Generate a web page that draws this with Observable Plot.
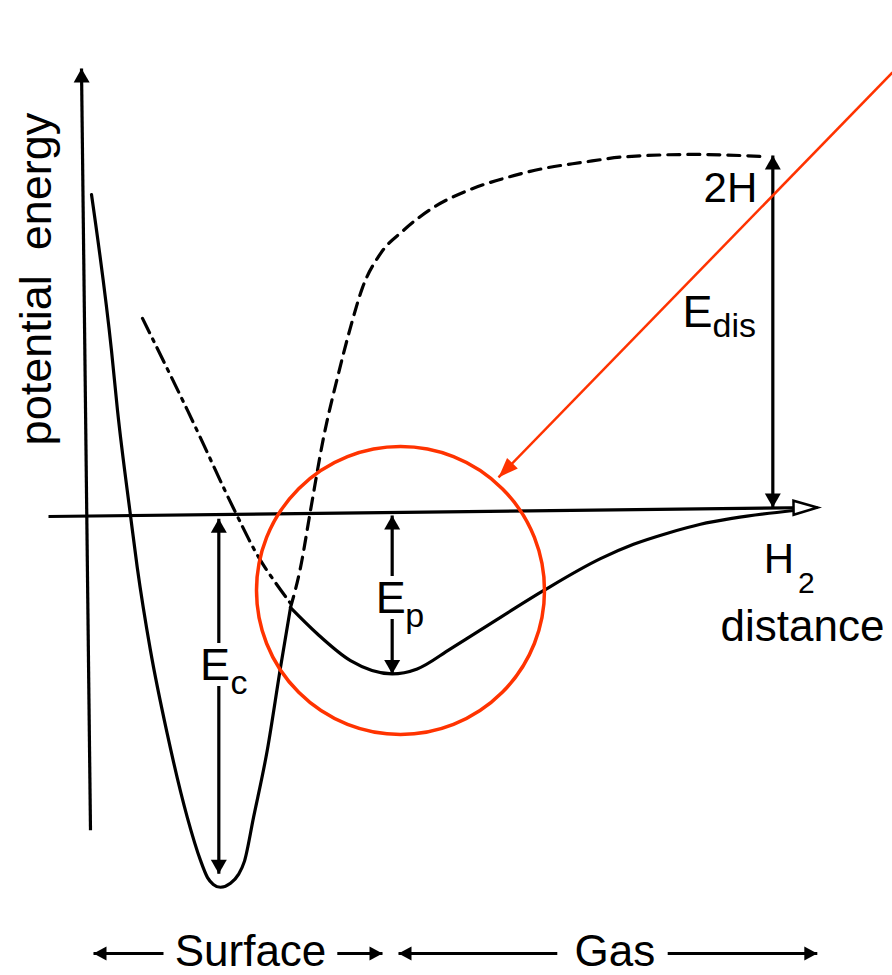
<!DOCTYPE html>
<html><head><meta charset="utf-8">
<script src="https://cdn.jsdelivr.net/npm/d3@7"></script>
<script src="https://cdn.jsdelivr.net/npm/@observablehq/plot@0.6"></script>
<style>body{margin:0;background:#fff}</style>
</head><body><div id="chart"></div>
<script>
// ---- data: [distance, potential energy] in arbitrary units ----
const chemisorptionWell = [[0.375,89.1],[2.875,45.5],[3.625,28.8],[5.25,-0.56],[6.09,-15.0],[7.75,-38.3],[9.84,-61.5],[12.34,-84.8],[14.0,-96.9],[14.88,-101.7],[15.6,-103.6],[16.5,-104.4],[17.75,-103.3],[18.75,-100.8],[19.5,-97.1],[20.63,-84.9],[22.34,-66.2],[24.0,-43.0],[25.25,-26.3]];
const physisorptionWell = [[25.25,-26.3],[28.59,-33.6],[32.75,-41.1],[37.96,-44.8],[41.09,-43.4],[45.25,-37.8],[51.5,-29.0],[56.91,-21.5],[64.0,-12.6],[68.13,-8.6],[72.38,-5.5],[76.5,-3.0],[80.63,-1.3],[88.13,0.84]];
const atomicCurve = [[25.25,-26.3],[26.5,-15.1],[27.75,0.84],[29.38,21.2],[31.25,39.1],[32.75,52.0],[34.25,63.1],[36.5,72.6],[39.38,79.1],[43.13,85.5],[47.38,90.2],[52.38,93.9],[57.38,96.6],[61.5,98.0],[67.38,99.7],[75.63,100.3],[84.63,99.7]];
const repulsiveBranch = [[6.75,54.5],[12.38,28.8],[18.38,0.28],[21.5,-13.1],[25.25,-25.1]];

const energyAxis = {from:[0.25,-88.5], to:[-0.875,124.3]};
const distanceAxis = {from:[-5,-0.84], to:[91.13,1.68]};

// energy differences (double arrows)
const energyGaps = [
  {name:"Ec",   d:16.29, top:-1.48, bottom:-100.6},
  {name:"Ep",   d:37.96, top:-0.56, bottom:-44.8},
  {name:"Edis", d:85.54, top:100.0, bottom:1.68}
];
const gapLabels = [
  {t:"E", d:13.94, e:-46.6, halo:true},
  {t:"E", d:35.9,  e:-27.9, halo:true},
  {t:"E", d:74.25, e:51.96, halo:false}
];
const gapSubscripts = [
  {t:"c",   d:17.75, e:-50.3},
  {t:"p",   d:39.6,  e:-31.6},
  {t:"dis", d:78.0,  e:49.2}
];
const stateLabels = [{t:"2H", d:83.6, e:86.9}];
const moleculeLabel = [{t:"H", d:84.4, e:-16.5}];
const moleculeSub = [{t:"2", d:88.7, e:-22.3}];
const axisTitles = [{t:"distance", d:79.0, e:-35.5}];
const energyTitle = [{t:"potential\u00a0\u00a0energy", d:-4.75, e:65.5}];

// regions along the bottom
const regionY = -122.9;
const regionArrows = [{tail:9.375, tip:0.625},{tail:31.1, tip:36.75},{tail:58.6, tip:38.75},{tail:72.4, tip:91.1}];
const regionLabels = [{t:"Surface", d:20.25},{t:"Gas", d:65.8}];
const regionBaseline = -126.4;

// highlight
const highlight = [{d:39.0, e:-21.5}];
const pointer = {from:[100.5,123.2], to:[51.25,10.06]};

// ---- scales ----
const W = 892, H = 975;
const xDomain = [-11, 100.5], yDomain = [-129.05, 143.3];
const PX = d => (d - xDomain[0]) / (xDomain[1]-xDomain[0]) * W;
const PY = e => H - (e - yDomain[0]) / (yDomain[1]-yDomain[0]) * H;
const angle = (a, b) => Math.atan2(PX(b[0])-PX(a[0]), -(PY(b[1])-PY(a[1]))) * 180/Math.PI;

function head(len, hw) {
  return { draw(ctx) { ctx.moveTo(0,0); ctx.lineTo(hw,len); ctx.lineTo(-hw,len); ctx.closePath(); } };
}

// arrowheads (filled)
const heads = [];
heads.push({d:energyAxis.to[0], e:energyAxis.to[1], rot:angle(energyAxis.from, energyAxis.to)});
for (const g of energyGaps) {
  heads.push({d:g.d, e:g.top, rot:0});
  heads.push({d:g.d, e:g.bottom, rot:180});
}
for (const a of regionArrows) {
  heads.push({d:a.tip, e:regionY, rot: a.tip < a.tail ? 270 : 90, small:true});
}
const axisHead = [{d:distanceAxis.to[0], e:distanceAxis.to[1], rot:angle(distanceAxis.from, distanceAxis.to)}];
const pointerHead = [{d:pointer.to[0], e:pointer.to[1], rot:angle(pointer.from, pointer.to)}];

const RED = "#ff3300";
const FONT = "'Liberation Sans', Arial, Helvetica, sans-serif";
const xy = {x: p => p[0], y: p => p[1]};
const SW = 3.2;

const chart = Plot.plot({
  width: W, height: H,
  margin: 0,
  x: {domain: xDomain, range: [0, W], axis: null},
  y: {domain: yDomain, range: [H, 0], axis: null},
  style: {fontFamily: FONT, background: "white", overflow: "visible"},
  marks: [
    // axes
    Plot.link([energyAxis], {x1: a=>a.from[0], y1: a=>a.from[1], x2: a=>a.to[0], y2: a=>a.to[1], stroke:"black", strokeWidth:SW}),
    Plot.link([distanceAxis], {x1: a=>a.from[0], y1: a=>a.from[1], x2: a=>a.to[0], y2: a=>a.to[1], stroke:"black", strokeWidth:SW}),
    // curves
    Plot.line(repulsiveBranch, {...xy, curve:"catmull-rom", stroke:"black", strokeWidth:SW, strokeDasharray:"16,7,3,7"}),
    Plot.line(atomicCurve, {...xy, curve:"monotone-x", stroke:"black", strokeWidth:SW, strokeDasharray:"12,8"}),
    Plot.line(chemisorptionWell, {...xy, curve:"monotone-x", stroke:"black", strokeWidth:SW}),
    Plot.line(physisorptionWell, {...xy, curve:"monotone-x", stroke:"black", strokeWidth:SW}),
    // energy double arrows
    Plot.link(energyGaps, {x1:"d", x2:"d", y1:"top", y2:"bottom", stroke:"black", strokeWidth:SW}),
    // bottom region arrows
    Plot.link(regionArrows, {x1:"tail", x2:"tip", y1:()=>regionY, y2:()=>regionY, stroke:"black", strokeWidth:SW}),
    // labels
    Plot.text(gapLabels.filter(l=>l.halo), {x:"d", y:"e", text:"t", fontSize:45, textAnchor:"start", lineAnchor:"bottom", stroke:"white", strokeWidth:12, fill:"black", paintOrder:"stroke", fontFamily:FONT}),
    Plot.text(gapLabels.filter(l=>!l.halo), {x:"d", y:"e", text:"t", fontSize:45, textAnchor:"start", lineAnchor:"bottom", fill:"black", fontFamily:FONT}),
    Plot.text(gapSubscripts, {x:"d", y:"e", text:"t", fontSize:34, textAnchor:"start", lineAnchor:"bottom", fill:"black", fontFamily:FONT}),
    Plot.text(stateLabels, {x:"d", y:"e", text:"t", fontSize:42, textAnchor:"end", lineAnchor:"bottom", fill:"black", fontFamily:FONT}),
    Plot.text(moleculeLabel, {x:"d", y:"e", text:"t", fontSize:42, textAnchor:"start", lineAnchor:"bottom", fill:"black", fontFamily:FONT}),
    Plot.text(moleculeSub, {x:"d", y:"e", text:"t", fontSize:30, textAnchor:"start", lineAnchor:"bottom", fill:"black", fontFamily:FONT}),
    Plot.text(axisTitles, {x:"d", y:"e", text:"t", fontSize:44, textAnchor:"start", lineAnchor:"bottom", fill:"black", fontFamily:FONT}),
    Plot.text(energyTitle, {x:"d", y:"e", text:"t", fontSize:45, rotate:-90, textAnchor:"middle", lineAnchor:"bottom", fill:"black", fontFamily:FONT}),
    Plot.text(regionLabels, {x:"d", y:()=>regionBaseline, text:"t", fontSize:44, textAnchor:"middle", lineAnchor:"bottom", fill:"black", fontFamily:FONT}),
    // arrowheads
    Plot.dot(heads.filter(h=>!h.small), {x:"d", y:"e", r:5, rotate:"rot", symbol: head(14, 8), fill:"black", stroke:"none"}),
    Plot.dot(heads.filter(h=>h.small), {x:"d", y:"e", r:5, rotate:"rot", symbol: head(13, 7), fill:"black", stroke:"none"}),
    Plot.dot(axisHead, {x:"d", y:"e", r:5, rotate:"rot", symbol: head(24, 7), fill:"white", stroke:"black", strokeWidth:2.5, strokeLinejoin:"miter"}),
    // highlight circle and pointer
    Plot.dot(highlight, {x:"d", y:"e", r:144, fill:"none", stroke:RED, strokeWidth:3.5}),
    Plot.link([pointer], {x1: a=>a.from[0], y1: a=>a.from[1], x2: a=>a.to[0], y2: a=>a.to[1], stroke:RED, strokeWidth:2.5}),
    Plot.dot(pointerHead, {x:"d", y:"e", r:5, rotate:"rot", symbol: head(20, 7.5), fill:RED, stroke:"none"})
  ]
});
document.getElementById("chart").appendChild(chart);
</script>
</body></html>
